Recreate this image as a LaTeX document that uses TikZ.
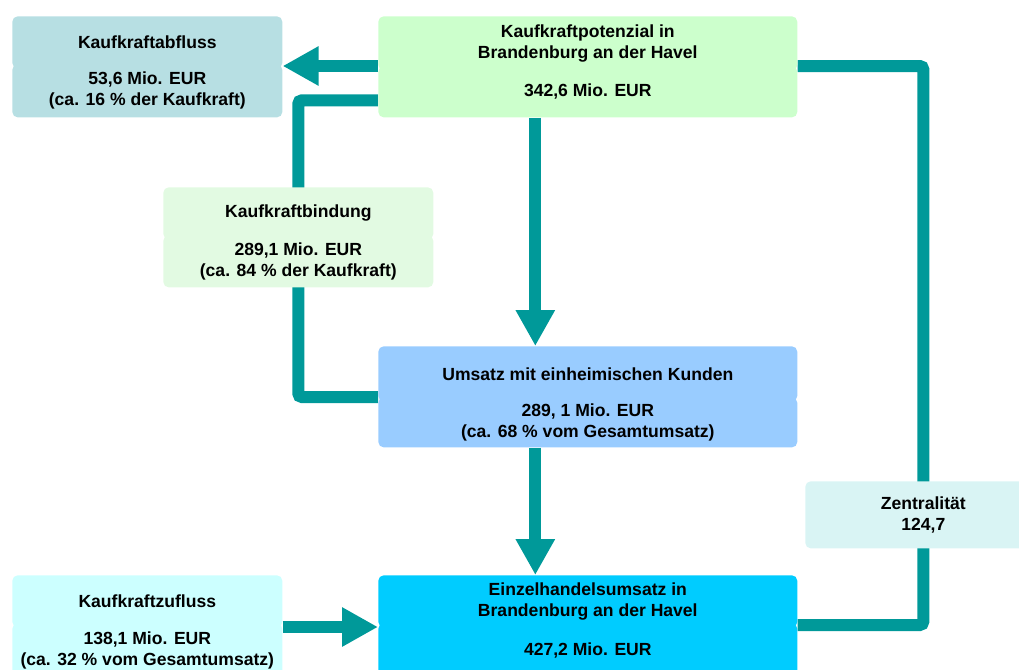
\documentclass[tikz,border=0pt]{standalone}
\usepackage{fontspec}
\setmainfont{Liberation Sans}
\usepackage{tikz}
\usetikzlibrary{arrows.meta,positioning,calc,backgrounds}
\definecolor{kkteal}{HTML}{009999}
\definecolor{kkabfl}{HTML}{B7DFE3}
\definecolor{kkpot}{HTML}{CCFFCC}
\definecolor{kkbind}{HTML}{E2FAE2}
\definecolor{kkums}{HTML}{99CCFF}
\definecolor{kkzen}{HTML}{D9F4F4}
\definecolor{kkzufl}{HTML}{CCFFFF}
\definecolor{kkeinz}{HTML}{00CCFF}

\begin{document}
\begin{tikzpicture}[
    x=0.02cm,y=-0.02cm,
    bx/.style  = {rectangle,rounded corners=3pt,draw=none,anchor=north west,inner sep=0pt,
                  align=center,font=\fontsize{10}{12}\selectfont\bfseries},
    fl/.style  = {kkteal,line width=0.24cm,rounded corners=2pt},
    fla/.style = {kkteal,line width=0.24cm,-{Triangle[length=0.72cm,width=0.74cm]}},
  ]
  \useasboundingbox (0,0) rectangle (1019,670);

  \node[bx,fill=kkabfl,minimum width=5.4cm,minimum height=1.06cm] (abfB) at (12,64)
        {53,6 Mio. EUR\\(ca. 16 \% der Kaufkraft)};
  \node[bx,fill=kkabfl,minimum width=5.4cm,minimum height=1.04cm] (abfT) at (12,16)
        {Kaufkraftabfluss};

  \node[bx,fill=kkpot,minimum width=8.38cm,minimum height=1.02cm] (potB) at (378,66)
        {342,6 Mio. EUR};
  \node[bx,fill=kkpot,minimum width=8.38cm,minimum height=1.08cm] (potT) at (378,16)
        {Kaufkraftpotenzial in\\Brandenburg an der Havel};

  \node[bx,fill=kkbind,minimum width=5.4cm,minimum height=1.04cm] (bindB) at (163,235)
        {289,1 Mio. EUR\\(ca. 84 \% der Kaufkraft)};
  \node[bx,fill=kkbind,minimum width=5.4cm,minimum height=1.04cm] (bindT) at (163,187)
        {Kaufkraftbindung};

  \node[bx,fill=kkums,minimum width=8.38cm,minimum height=1.0cm]  (umsB) at (378,397)
        {289, 1 Mio. EUR\\(ca. 68 \% vom Gesamtumsatz)};
  \node[bx,fill=kkums,minimum width=8.38cm,minimum height=1.1cm]  (umsT) at (378,346)
        {Umsatz mit einheimischen Kunden};

  \node[bx,fill=kkzen,minimum width=4.72cm,minimum height=1.34cm] (zen) at (805,481)
        {Zentralität\\124,7};

  \node[bx,fill=kkzufl,minimum width=5.4cm,minimum height=1.1cm]  (zufB) at (12,623)
        {138,1 Mio. EUR\\(ca. 32 \% vom Gesamtumsatz)};
  \node[bx,fill=kkzufl,minimum width=5.4cm,minimum height=1.04cm] (zufT) at (12,575)
        {Kaufkraftzufluss};

  \node[bx,fill=kkeinz,minimum width=8.38cm,minimum height=1.1cm] (einB) at (378,623)
        {427,2 Mio. EUR};
  \node[bx,fill=kkeinz,minimum width=8.38cm,minimum height=1.04cm] (einT) at (378,575)
        {Einzelhandelsumsatz in\\Brandenburg an der Havel};

  \begin{scope}[on background layer]
    % Abfluss und Bindung
    \draw[fla] (potB.north west) -- (potB.north west -| abfB.east);
    \draw[fl]  ([yshift=-0.17cm]potB.west) -| (bindT.north) -- (bindB.south)
               |- (umsB.north west);
    % senkrechte Pfeile
    \draw[fla] ([xshift=-1.05cm]potB.south) -- ([xshift=-1.05cm]umsT.north);
    \draw[fla] ([xshift=-1.05cm]umsB.south) -- ([xshift=-1.05cm]einT.north);
    % Zufluss
    \draw[fla] ([yshift=-0.08cm]zufB.north east) -- ([yshift=-0.08cm]zufB.north east -| einB.west);
    % Zentralitaet
    \draw[fl]  ([yshift=-0.04cm]einB.north east) -| (zen.south) -- (zen.north)
               |- (potB.north east);
  \end{scope}

\end{tikzpicture}
\end{document}
